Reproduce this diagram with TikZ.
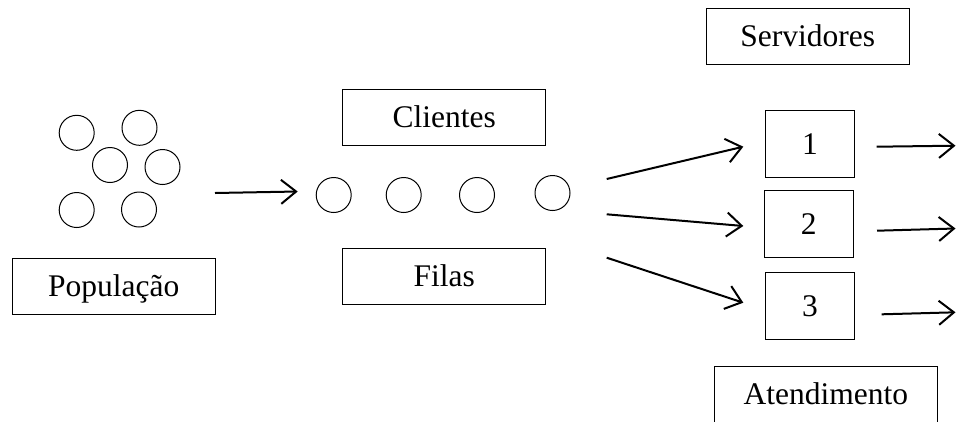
\documentclass[tikz,border=0pt]{standalone}
\usepackage{fontspec}
\setmainfont{Liberation Serif}
\usetikzlibrary{arrows.meta}
\tikzstyle{person}=[circle,draw,line width=1pt,minimum size=35pt,inner sep=0pt]
\tikzstyle{tag}=[rectangle,draw,line width=1.1pt,minimum width=203pt,minimum height=56pt,text height=20.8pt,text depth=0pt,inner sep=0pt]
\tikzstyle{server}=[rectangle,draw,line width=1.1pt,minimum width=88.6pt,minimum height=67pt,text height=20.8pt,text depth=0pt,inner sep=0pt]
\tikzstyle{arr}=[draw,line width=2pt,-{Straight Barb[length=15pt,width=24pt]}]

\begin{document}
\begin{tikzpicture}[x=1pt,y=-1pt,font=\fontsize{31.5}{36}\selectfont]
    \useasboundingbox (0,0) rectangle (957,421);

    % populacao
    \foreach \pos/\name in {{(76.7,132.8)/p1}, {(139.5,127.8)/p2},
    {(110,165)/p3},{(162.5,167)/p4},{(76.7,210)/p5},{(139,209.5)/p6}}
        \node[person] (\name) at \pos {};

    % fila
    \foreach \pos/\name in {{(333.7,195)/q1}, {(403.7,195)/q2},
    {(477,195)/q3},{(552.5,193)/q4}}
        \node[person] (\name) at \pos {};

    % servidores
    \foreach \pos/\name/\val in {{(810,143.9)/s1/1}, {(808.8,224.4)/s2/2},
    {(810,305.8)/s3/3}}
        \node[server] (\name) at \pos {\val};

    \node[tag] (pop) at (113.7,286.4) {População};
    \node[tag] (cli) at (444.3,117.2) {Clientes};
    \node[tag] (fil) at (444.3,276.2) {Filas};
    \node[tag] (serv) at (807.7,36.3) {Servidores};
    \node[tag,minimum width=223pt] (atend) at (825.8,394.5) {Atendimento};

    \coordinate (chega) at (215,193);
    \coordinate (entra) at (297.7,191.5);
    \foreach \name/\a/\b in {e1/179/146.7, e2/214.3/226, e3/257.7/302.7} {
        \coordinate (\name a) at (606.7,\a);
        \coordinate (\name b) at (743.3,\b);
    }
    \foreach \name/\x/\a/\b in {o1/876.7/146.7/145.7, o2/877/230.7/228.5,
    o3/881.7/314.3/312.3} {
        \coordinate (\name a) at (\x,\a);
        \coordinate (\name b) at (955.5,\b);
    }

    \path[arr] (chega) -- (entra);
    \foreach \name in {e1,e2,e3,o1,o2,o3}
        \path[arr] (\name a) -- (\name b);
\end{tikzpicture}
\end{document}
